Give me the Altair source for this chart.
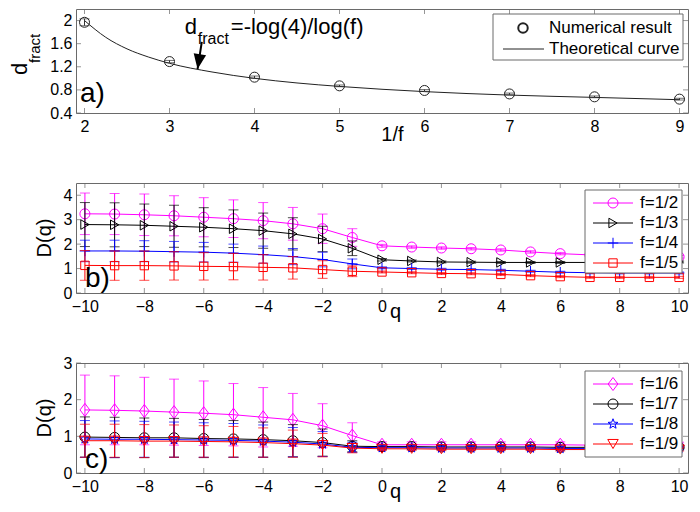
import math
import altair as alt
import pandas as pd

FONT = "Liberation Sans"
GRAY = "#6a6a6a"
W = 612
HA, HB, HC = 104, 110, 110

# ---------------- panel a data ----------------
inv_f = [2, 3, 4, 5, 6, 7, 8, 9]
d_num = [1.97, 1.29, 1.02, 0.87, 0.79, 0.73, 0.68, 0.64]
d_err = [0.06, 0.02, 0.02, 0.015, 0.015, 0.015, 0.015, 0.015]
curve_x = [2, 2.25, 2.5, 2.75, 3, 3.5, 4, 4.5, 5, 6, 7, 8, 9]
curve_y = [2.0, 1.71, 1.51, 1.37, 1.26, 1.11, 1.0, 0.92, 0.86, 0.77, 0.71, 0.67, 0.63]
a_xticks = [2, 3, 4, 5, 6, 7, 8, 9]
a_yticks = [0.4, 0.8, 1.2, 1.6, 2.0]
a_legend = ["Numerical result", "Theoretical curve"]
ann_x = [3.18]
ann_y = [1.77]
arrow_x = [3.38, 3.33]
arrow_y = [1.63, 1.16]

# ---------------- panels b, c data ----------------
q = list(range(-10, 11))
qticks = [-10, -8, -6, -4, -2, 0, 2, 4, 6, 8, 10]

b_labels = ["f=1/2", "f=1/3", "f=1/4", "f=1/5"]
b_f2 = [3.24, 3.23, 3.20, 3.16, 3.10, 3.04, 2.96, 2.83, 2.63, 2.27, 1.93,
        1.88, 1.84, 1.81, 1.76, 1.68, 1.61, 1.56, 1.52, 1.50, 1.48]
b_e2 = [0.85, 0.84, 0.85, 0.82, 0.80, 0.77, 0.74, 0.67, 0.60, 0.36, 0.06,
        0.05, 0.05, 0.05, 0.05, 0.05, 0.05, 0.05, 0.05, 0.05, 0.05]
b_f3 = [2.80, 2.79, 2.77, 2.73, 2.69, 2.63, 2.55, 2.42, 2.21, 1.83, 1.36,
        1.31, 1.27, 1.26, 1.25, 1.25, 1.25, 1.25, 1.25, 1.26, 1.27]
b_e3 = [0.90, 0.90, 0.87, 0.86, 0.80, 0.77, 0.72, 0.66, 0.52, 0.30, 0.05,
        0.04, 0.04, 0.04, 0.04, 0.04, 0.04, 0.04, 0.04, 0.04, 0.04]
b_f4 = [1.72, 1.72, 1.71, 1.69, 1.67, 1.63, 1.57, 1.49, 1.37, 1.19, 1.03,
        1.00, 0.97, 0.96, 0.93, 0.89, 0.85, 0.83, 0.82, 0.82, 0.82]
b_e4 = [0.44, 0.44, 0.43, 0.42, 0.40, 0.37, 0.35, 0.33, 0.30, 0.20, 0.04,
        0.04, 0.04, 0.04, 0.04, 0.04, 0.04, 0.04, 0.04, 0.04, 0.04]
b_f5 = [1.13, 1.12, 1.12, 1.11, 1.09, 1.08, 1.05, 1.03, 0.96, 0.89, 0.86,
        0.83, 0.80, 0.79, 0.76, 0.71, 0.67, 0.64, 0.64, 0.64, 0.64]
b_e5 = [0.61, 0.60, 0.60, 0.58, 0.56, 0.54, 0.52, 0.46, 0.36, 0.22, 0.04,
        0.04, 0.04, 0.04, 0.04, 0.04, 0.04, 0.04, 0.04, 0.04, 0.04]

c_labels = ["f=1/6", "f=1/7", "f=1/8", "f=1/9"]
c_f6 = [1.72, 1.71, 1.69, 1.66, 1.63, 1.59, 1.52, 1.45, 1.29, 1.02, 0.77,
        0.77, 0.77, 0.77, 0.77, 0.77, 0.77, 0.76, 0.76, 0.76, 0.76]
c_e6 = [0.95, 0.94, 0.92, 0.90, 0.88, 0.85, 0.81, 0.72, 0.60, 0.35, 0.08,
        0.08, 0.08, 0.08, 0.08, 0.08, 0.08, 0.08, 0.08, 0.08, 0.08]
c_f7 = [0.98, 0.97, 0.96, 0.96, 0.94, 0.93, 0.91, 0.88, 0.83, 0.73, 0.72,
        0.72, 0.71, 0.71, 0.71, 0.71, 0.70, 0.70, 0.70, 0.70, 0.70]
c_e7 = [0.55, 0.55, 0.54, 0.53, 0.52, 0.50, 0.48, 0.44, 0.37, 0.15, 0.04,
        0.04, 0.04, 0.04, 0.04, 0.04, 0.04, 0.04, 0.04, 0.04, 0.04]
c_f8 = [0.93, 0.92, 0.92, 0.91, 0.90, 0.89, 0.87, 0.84, 0.79, 0.70, 0.69,
        0.69, 0.68, 0.68, 0.68, 0.68, 0.67, 0.67, 0.67, 0.67, 0.67]
c_e8 = [0.50, 0.50, 0.49, 0.48, 0.47, 0.46, 0.44, 0.40, 0.34, 0.14, 0.04,
        0.04, 0.04, 0.04, 0.04, 0.04, 0.04, 0.04, 0.04, 0.04, 0.04]
c_f9 = [0.88, 0.88, 0.87, 0.87, 0.86, 0.85, 0.83, 0.80, 0.76, 0.68, 0.66,
        0.66, 0.65, 0.65, 0.65, 0.65, 0.64, 0.64, 0.64, 0.64, 0.64]
c_e9 = [0.45, 0.45, 0.45, 0.44, 0.43, 0.42, 0.40, 0.37, 0.32, 0.13, 0.04,
        0.04, 0.04, 0.04, 0.04, 0.04, 0.04, 0.04, 0.04, 0.04, 0.04]

# ---------------- styles ----------------
MAG, BLK, BLU, RED = "#ff00ff", "#000000", "#0000ff", "#ff0000"
CROSS = "M-1,0L1,0M0,-1L0,1"
DIAMOND = "M0,-1L0.75,0L0,1L-0.75,0Z"
_star = []
for k in range(10):
    r = 1.0 if k % 2 == 0 else 0.42
    ang = -math.pi / 2 + k * math.pi / 5
    _star.append(f"{r*math.cos(ang):.3f},{r*math.sin(ang):.3f}")
STAR = "M" + "L".join(_star) + "Z"
HEAD = "M0,0L-0.42,-1L0.42,-1Z"

ONE = pd.DataFrame({"k": [0]})


def make_enc(xdom, ydom, xvals, yvals, xfmt, yfmt):
    def X(f):
        return alt.X(f, type="quantitative",
                     scale=alt.Scale(domain=xdom, nice=False, zero=False),
                     axis=alt.Axis(values=xvals, format=xfmt, title=None))

    def Y(f):
        return alt.Y(f, type="quantitative",
                     scale=alt.Scale(domain=ydom, nice=False, zero=False),
                     axis=alt.Axis(values=yvals, format=yfmt, title=None))
    return X, Y


def frame_ticks(X, Y, xvals, yvals, h):
    dfx = pd.DataFrame({"t": xvals})
    dfy = pd.DataFrame({"t": yvals})
    out = []
    for yp in (2.5, h - 2.5):
        out.append(alt.Chart(dfx).mark_tick(orient="vertical", size=5, thickness=1, color=GRAY)
                   .encode(x=X("t"), y=alt.value(yp)))
    for xp in (2.5, W - 2.5):
        out.append(alt.Chart(dfy).mark_tick(orient="horizontal", size=5, thickness=1, color=GRAY)
                   .encode(x=alt.value(xp), y=Y("t")))
    return out


def txt(s, x, y, size, **kw):
    return alt.Chart(ONE).mark_text(text=s, font=FONT, fontSize=size, color="black", **kw).encode(
        x=alt.value(x), y=alt.value(y))


def series_layers(X, Y, vals, errs, color, shape, size, cap=10):
    df = pd.DataFrame({"q": q, "v": vals,
                       "lo": [v - e for v, e in zip(vals, errs)],
                       "hi": [v + e for v, e in zip(vals, errs)]})
    base = alt.Chart(df)
    return [
        base.mark_rule(color=color, strokeWidth=1).encode(x=X("q"), y=Y("lo"), y2=alt.Y2("hi")),
        base.mark_tick(orient="horizontal", size=cap, thickness=1, color=color).encode(x=X("q"), y=Y("lo")),
        base.mark_tick(orient="horizontal", size=cap, thickness=1, color=color).encode(x=X("q"), y=Y("hi")),
        base.mark_line(color=color, strokeWidth=1).encode(x=X("q"), y=Y("v")),
        base.mark_point(shape=shape, size=size, filled=False, color=color, strokeWidth=1,
                        opacity=1).encode(x=X("q"), y=Y("v")),
    ]


def legend_box(labels, colors, shapes, sizes, top, bottom, row0, step):
    out = [alt.Chart(ONE).mark_rect(fill="white", stroke=GRAY, strokeWidth=1).encode(
        x=alt.value(W - 103), x2=alt.value(W - 6), y=alt.value(top), y2=alt.value(bottom))]
    for i, (lab, col, shp, sz) in enumerate(zip(labels, colors, shapes, sizes)):
        yy = row0 + i * step
        out.append(alt.Chart(ONE).mark_rule(color=col, strokeWidth=1).encode(
            x=alt.value(W - 95), x2=alt.value(W - 55), y=alt.value(yy)))
        out.append(alt.Chart(ONE).mark_point(shape=shp, size=sz, filled=False, color=col,
                                             strokeWidth=1, opacity=1).encode(
            x=alt.value(W - 75), y=alt.value(yy)))
        out.append(txt(lab, W - 48, yy, 17, align="left", baseline="middle"))
    return out


# ---------------- panel a ----------------
XA, YA = make_enc([1.9, 9.1], [0.4, 2.2], a_xticks, a_yticks, "d", "~g")
dfa = pd.DataFrame({"x": inv_f, "v": d_num,
                    "lo": [v - e for v, e in zip(d_num, d_err)],
                    "hi": [v + e for v, e in zip(d_num, d_err)]})
dfc = pd.DataFrame({"x": curve_x, "v": curve_y})
dfann = pd.DataFrame({"x": ann_x, "v": ann_y})
dfarr = pd.DataFrame({"x": [arrow_x[0]], "v": [arrow_y[0]], "x2": [arrow_x[1]], "v2": [arrow_y[1]]})
dfhead = pd.DataFrame({"x": [arrow_x[1]], "v": [arrow_y[1]]})

la = frame_ticks(XA, YA, a_xticks, a_yticks, HA)
la += [
    alt.Chart(dfc).mark_line(color="#222222", strokeWidth=1, interpolate="monotone").encode(x=XA("x"), y=YA("v")),
    alt.Chart(dfa).mark_rule(color="#333333", strokeWidth=1).encode(x=XA("x"), y=YA("lo"), y2=alt.Y2("hi")),
    alt.Chart(dfa).mark_tick(orient="horizontal", size=10, thickness=1, color="#333333").encode(x=XA("x"), y=YA("lo")),
    alt.Chart(dfa).mark_tick(orient="horizontal", size=10, thickness=1, color="#333333").encode(x=XA("x"), y=YA("hi")),
    alt.Chart(dfa).mark_point(shape="circle", size=100, filled=False, color="#222222", strokeWidth=1,
                              opacity=1).encode(x=XA("x"), y=YA("v")),
    alt.Chart(dfann).mark_text(text="d", font=FONT, fontSize=22, align="left", baseline="alphabetic",
                               color="black").encode(x=XA("x"), y=YA("v")),
    alt.Chart(dfann).mark_text(text="fract", font=FONT, fontSize=16, align="left", baseline="alphabetic",
                               dx=13, dy=10, color="black").encode(x=XA("x"), y=YA("v")),
    alt.Chart(dfann).mark_text(text="=-log(4)/log(f)", font=FONT, fontSize=22, align="left",
                               baseline="alphabetic", dx=46, color="black").encode(x=XA("x"), y=YA("v")),
    alt.Chart(dfarr).mark_rule(color="black", strokeWidth=2).encode(
        x=XA("x"), y=YA("v"), x2=alt.X2("x2"), y2=alt.Y2("v2")),
    alt.Chart(dfhead).mark_point(shape=HEAD, size=900, filled=True, color="black", opacity=1,
                                 angle=9).encode(x=XA("x"), y=YA("v")),
    # legend a
    alt.Chart(ONE).mark_rect(fill="white", stroke=GRAY, strokeWidth=1).encode(
        x=alt.value(W - 195), x2=alt.value(W - 5), y=alt.value(5), y2=alt.value(51)),
    alt.Chart(ONE).mark_point(shape="circle", size=90, filled=False, color="#222222", opacity=1).encode(
        x=alt.value(W - 165), y=alt.value(19)),
    alt.Chart(ONE).mark_rule(color="#222222", strokeWidth=1).encode(
        x=alt.value(W - 185), x2=alt.value(W - 144), y=alt.value(40)),
    txt(a_legend[0], W - 139, 19, 17, align="left", baseline="middle"),
    txt(a_legend[1], W - 139, 40, 17, align="left", baseline="middle"),
    # titles
    txt("d", -49, HA / 2 + 14, 22, angle=270, align="left", baseline="alphabetic"),
    txt("fract", -36, HA / 2 + 2, 15, angle=270, align="left", baseline="alphabetic"),
    txt("1/f", 0.517 * W, HA + 28, 20, align="center", baseline="alphabetic"),
    txt("a)", 4, HA - 11, 28, align="left", baseline="alphabetic"),
]
panel_a = alt.layer(*la).properties(width=W, height=HA)

# ---------------- panel b ----------------
XB, YB = make_enc([-10.3, 10.3], [0, 4.5], qticks, [0, 1, 2, 3, 4], "d", "d")
lb = frame_ticks(XB, YB, qticks, [0, 1, 2, 3, 4], HB)
for vals, errs, col, shp, sz in [(b_f2, b_e2, MAG, "circle", 100),
                                 (b_f3, b_e3, BLK, "triangle-right", 90),
                                 (b_f4, b_e4, BLU, CROSS, 110),
                                 (b_f5, b_e5, RED, "square", 70)]:
    lb += series_layers(XB, YB, vals, errs, col, shp, sz)
lb += legend_box(b_labels, [MAG, BLK, BLU, RED], ["circle", "triangle-right", CROSS, "square"],
                 [100, 90, 110, 70], 7, 90, 20, 20)
lb += [
    txt("D(q)", -25, HB / 2, 20, angle=270, align="center", baseline="alphabetic"),
    txt("q", 0.522 * W, HB + 25, 20, align="center", baseline="alphabetic"),
    txt("b)", 9, HB - 6, 28, align="left", baseline="alphabetic"),
]
panel_b = alt.layer(*lb).properties(width=W, height=HB)

# ---------------- panel c ----------------
XC, YC = make_enc([-10.3, 10.3], [0, 3], qticks, [0, 1, 2, 3], "d", "d")
lc = frame_ticks(XC, YC, qticks, [0, 1, 2, 3], HC)
for vals, errs, col, shp, sz in [(c_f6, c_e6, MAG, DIAMOND, 170),
                                 (c_f7, c_e7, BLK, "circle", 100),
                                 (c_f8, c_e8, BLU, STAR, 110),
                                 (c_f9, c_e9, RED, "triangle-down", 110)]:
    lc += series_layers(XC, YC, vals, errs, col, shp, sz)
lc += legend_box(c_labels, [MAG, BLK, BLU, RED], [DIAMOND, "circle", STAR, "triangle-down"],
                 [170, 100, 110, 110], 8, 94, 21, 20)
lc += [
    txt("D(q)", -25, HC / 2, 20, angle=270, align="center", baseline="alphabetic"),
    txt("q", 0.522 * W, HC + 25, 20, align="center", baseline="alphabetic"),
    txt("c)", 9, HC - 5, 28, align="left", baseline="alphabetic"),
]
panel_c = alt.layer(*lc).properties(width=W, height=HC)

chart = (
    alt.vconcat(panel_a, panel_b, panel_c, spacing=70, bounds="flush")
    .properties(padding=0)
    .configure_view(stroke=GRAY, strokeWidth=1)
    .configure_axis(labelFont=FONT, labelFontSize=16, labelColor="black", ticks=False,
                    domain=False, grid=False, labelFlush=False)
    .configure_axisX(labelPadding=5)
    .configure_axisY(labelPadding=4)
)

chart.save("out.html", embed_options={"renderer": "svg", "actions": False})
